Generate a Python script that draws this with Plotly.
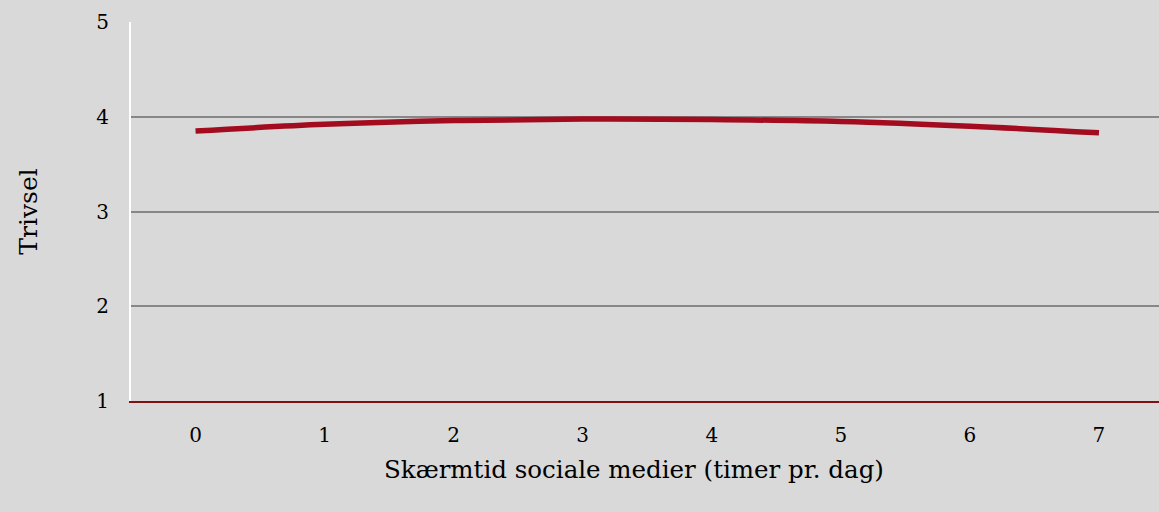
import plotly.graph_objects as go

hours = [0, 1, 2, 3, 4, 5, 6, 7]
trivsel = [3.85, 3.92, 3.96, 3.975, 3.97, 3.95, 3.90, 3.83]
y_ticks = [1, 2, 3, 4, 5]

font_family = "DejaVu Serif"

fig = go.Figure()
fig.add_trace(go.Scatter(
    x=hours,
    y=trivsel,
    mode="lines",
    line=dict(color="#a30c1f", width=5.5, shape="spline"),
    showlegend=False,
))

fig.update_layout(
    width=1159,
    height=512,
    paper_bgcolor="#d9d9d9",
    plot_bgcolor="#d9d9d9",
    margin=dict(l=131, r=0, t=22, b=111),
    font=dict(family=font_family, color="black"),
)
# dark red axis line doubles as the baseline at y = 1
fig.update_xaxes(
    range=[-0.5, 7.465],
    tickvals=hours,
    ticktext=[str(h) for h in hours],
    tickfont=dict(size=20),
    ticks="outside",
    ticklen=15,
    tickcolor="rgba(0,0,0,0)",
    showgrid=False,
    zeroline=False,
    showline=True,
    linecolor="#7f1111",
    linewidth=2,
)
fig.update_yaxes(
    range=[1, 5],
    tickvals=y_ticks,
    tickfont=dict(size=20),
    ticks="outside",
    ticklen=16,
    tickcolor="rgba(0,0,0,0)",
    showgrid=True,
    gridcolor="#878787",
    gridwidth=2,
    zeroline=False,
    showline=True,
    linecolor="white",
    linewidth=2,
    title=dict(text="Trivsel", font=dict(size=25), standoff=52),
)

# x-axis title, placed slightly left of the plot centre as in the original
fig.add_annotation(
    text="Skærmtid sociale medier (timer pr. dag)",
    xref="paper", yref="paper",
    x=(634 - 131) / 1028, y=-0.18,
    xanchor="center", yanchor="middle",
    showarrow=False,
    font=dict(size=24.5),
)

fig.write_html("out.html", config={"displayModeBar": False},
               post_script="document.body.style.margin='0';")
